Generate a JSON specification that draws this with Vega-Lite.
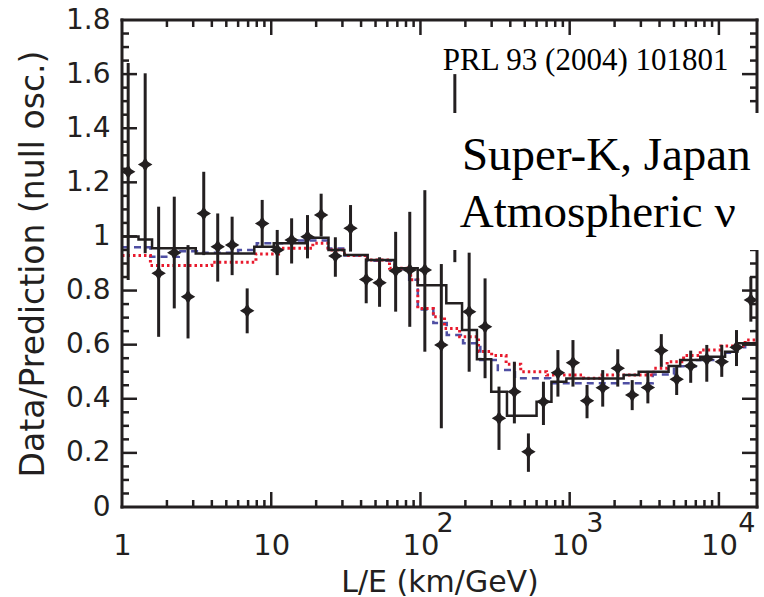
{
  "$schema": "https://vega.github.io/schema/vega-lite/v6.json",
  "width": 635,
  "height": 487,
  "autosize": "none",
  "padding": {"left": 122, "top": 20, "right": 7, "bottom": 90},
  "background": "white",
  "config": {
    "view": {"stroke": null},
    "axis": {"grid": false, "domain": false, "labelFont": "DejaVu Sans", "titleFont": "DejaVu Sans", "titleFontWeight": "normal", "labelColor": "#231f20", "titleColor": "#231f20"}
  },
  "datasets": {
    "pts": [
      {"x": 1.10, "y": 1.239, "lo": 0.839, "hi": 1.641},
      {"x": 1.43, "y": 1.266, "lo": 0.938, "hi": 1.603},
      {"x": 1.76, "y": 0.864, "lo": 0.629, "hi": 1.110},
      {"x": 2.24, "y": 0.940, "lo": 0.734, "hi": 1.147},
      {"x": 2.77, "y": 0.777, "lo": 0.623, "hi": 0.968},
      {"x": 3.53, "y": 1.085, "lo": 0.931, "hi": 1.239},
      {"x": 4.38, "y": 0.962, "lo": 0.833, "hi": 1.085},
      {"x": 5.47, "y": 0.968, "lo": 0.857, "hi": 1.073},
      {"x": 6.9, "y": 0.725, "lo": 0.642, "hi": 0.808},
      {"x": 8.7, "y": 1.048, "lo": 0.962, "hi": 1.135},
      {"x": 10.97, "y": 0.950, "lo": 0.857, "hi": 1.024},
      {"x": 13.7, "y": 0.987, "lo": 0.900, "hi": 1.067},
      {"x": 17.5, "y": 0.999, "lo": 0.919, "hi": 1.079},
      {"x": 21.6, "y": 1.079, "lo": 1.000, "hi": 1.158},
      {"x": 26.9, "y": 0.928, "lo": 0.851, "hi": 0.997},
      {"x": 34, "y": 1.030, "lo": 0.944, "hi": 1.116},
      {"x": 43.3, "y": 0.841, "lo": 0.753, "hi": 0.919},
      {"x": 53.2, "y": 0.829, "lo": 0.740, "hi": 0.923},
      {"x": 68.2, "y": 0.873, "lo": 0.722, "hi": 1.017},
      {"x": 84.8, "y": 0.876, "lo": 0.666, "hi": 1.091},
      {"x": 107, "y": 0.876, "lo": 0.574, "hi": 1.171},
      {"x": 138, "y": 0.599, "lo": 0.291, "hi": 0.898},
      {"x": 170, "y": 1.2, "lo": 0.905, "hi": 1.60},
      {"x": 212, "y": 0.722, "lo": 0.500, "hi": 0.940},
      {"x": 271, "y": 0.666, "lo": 0.476, "hi": 0.845},
      {"x": 336, "y": 0.328, "lo": 0.211, "hi": 0.445},
      {"x": 426, "y": 0.426, "lo": 0.309, "hi": 0.537},
      {"x": 529, "y": 0.204, "lo": 0.130, "hi": 0.272},
      {"x": 667, "y": 0.389, "lo": 0.303, "hi": 0.463},
      {"x": 834, "y": 0.496, "lo": 0.408, "hi": 0.580},
      {"x": 1052, "y": 0.533, "lo": 0.445, "hi": 0.617},
      {"x": 1307, "y": 0.393, "lo": 0.328, "hi": 0.451},
      {"x": 1665, "y": 0.441, "lo": 0.371, "hi": 0.506},
      {"x": 2100, "y": 0.513, "lo": 0.445, "hi": 0.583},
      {"x": 2624, "y": 0.414, "lo": 0.358, "hi": 0.469},
      {"x": 3342, "y": 0.442, "lo": 0.383, "hi": 0.503},
      {"x": 4111, "y": 0.578, "lo": 0.518, "hi": 0.639},
      {"x": 5212, "y": 0.472, "lo": 0.414, "hi": 0.521},
      {"x": 6471, "y": 0.521, "lo": 0.459, "hi": 0.578},
      {"x": 8294, "y": 0.546, "lo": 0.463, "hi": 0.599},
      {"x": 10450, "y": 0.537, "lo": 0.481, "hi": 0.599},
      {"x": 13120, "y": 0.590, "lo": 0.521, "hi": 0.654},
      {"x": 16370, "y": 0.765, "lo": 0.685, "hi": 0.851}
    ],
    "black": [
      {"x": 1, "y": 1.0}, {"x": 1.29, "y": 0.989}, {"x": 1.59, "y": 0.956},
      {"x": 3.12, "y": 0.937}, {"x": 7.7, "y": 0.962}, {"x": 10.4, "y": 0.975},
      {"x": 17, "y": 0.995}, {"x": 24.2, "y": 0.95}, {"x": 30.9, "y": 0.931},
      {"x": 44.3, "y": 0.913}, {"x": 67, "y": 0.882}, {"x": 95.8, "y": 0.82},
      {"x": 149, "y": 0.753}, {"x": 190, "y": 0.654}, {"x": 239, "y": 0.546},
      {"x": 298, "y": 0.426}, {"x": 380, "y": 0.337}, {"x": 600, "y": 0.389},
      {"x": 755, "y": 0.463}, {"x": 950, "y": 0.475}, {"x": 2300, "y": 0.488},
      {"x": 2900, "y": 0.5}, {"x": 4600, "y": 0.521}, {"x": 5500, "y": 0.543},
      {"x": 7500, "y": 0.555}, {"x": 11000, "y": 0.574}, {"x": 13300, "y": 0.605},
      {"x": 18000, "y": 0.605}
    ],
    "blue": [
      {"x": 1, "y": 0.96}, {"x": 1.55, "y": 0.925}, {"x": 2.4, "y": 0.945},
      {"x": 3.3, "y": 0.94}, {"x": 6, "y": 0.95}, {"x": 8, "y": 0.975},
      {"x": 13, "y": 0.985}, {"x": 24, "y": 0.955}, {"x": 31, "y": 0.93},
      {"x": 44, "y": 0.91}, {"x": 67, "y": 0.88}, {"x": 84, "y": 0.84},
      {"x": 96, "y": 0.73}, {"x": 122, "y": 0.68}, {"x": 150, "y": 0.636},
      {"x": 193, "y": 0.605}, {"x": 252, "y": 0.543}, {"x": 330, "y": 0.506},
      {"x": 430, "y": 0.476}, {"x": 740, "y": 0.457}, {"x": 3600, "y": 0.49},
      {"x": 5000, "y": 0.52}, {"x": 7000, "y": 0.543}, {"x": 10500, "y": 0.57},
      {"x": 12800, "y": 0.59}, {"x": 15000, "y": 0.605}, {"x": 18000, "y": 0.605}
    ],
    "red": [
      {"x": 1, "y": 0.93}, {"x": 1.55, "y": 0.893}, {"x": 4, "y": 0.905},
      {"x": 7.9, "y": 0.935}, {"x": 11.2, "y": 0.956}, {"x": 19, "y": 0.975},
      {"x": 24, "y": 0.95}, {"x": 31, "y": 0.93}, {"x": 44, "y": 0.913},
      {"x": 62, "y": 0.882}, {"x": 86, "y": 0.84}, {"x": 96, "y": 0.734},
      {"x": 122, "y": 0.703}, {"x": 145, "y": 0.66}, {"x": 183, "y": 0.629},
      {"x": 245, "y": 0.575}, {"x": 300, "y": 0.56}, {"x": 375, "y": 0.528},
      {"x": 470, "y": 0.5}, {"x": 700, "y": 0.488}, {"x": 1240, "y": 0.476},
      {"x": 1600, "y": 0.488}, {"x": 3660, "y": 0.513}, {"x": 4500, "y": 0.537},
      {"x": 5800, "y": 0.56}, {"x": 7500, "y": 0.58}, {"x": 10300, "y": 0.595},
      {"x": 15000, "y": 0.617}, {"x": 18000, "y": 0.617}
    ],
    "xticks": [
      {"v": 2, "k": "minor"}, {"v": 3, "k": "minor"}, {"v": 4, "k": "minor"}, {"v": 5, "k": "minor"}, {"v": 6, "k": "minor"}, {"v": 7, "k": "minor"}, {"v": 8, "k": "minor"}, {"v": 9, "k": "minor"},
      {"v": 10, "k": "major"},
      {"v": 20, "k": "minor"}, {"v": 30, "k": "minor"}, {"v": 40, "k": "minor"}, {"v": 50, "k": "minor"}, {"v": 60, "k": "minor"}, {"v": 70, "k": "minor"}, {"v": 80, "k": "minor"}, {"v": 90, "k": "minor"},
      {"v": 100, "k": "major"},
      {"v": 200, "k": "minor"}, {"v": 300, "k": "minor"}, {"v": 400, "k": "minor"}, {"v": 500, "k": "minor"}, {"v": 600, "k": "minor"}, {"v": 700, "k": "minor"}, {"v": 800, "k": "minor"}, {"v": 900, "k": "minor"},
      {"v": 1000, "k": "major"},
      {"v": 2000, "k": "minor"}, {"v": 3000, "k": "minor"}, {"v": 4000, "k": "minor"}, {"v": 5000, "k": "minor"}, {"v": 6000, "k": "minor"}, {"v": 7000, "k": "minor"}, {"v": 8000, "k": "minor"}, {"v": 9000, "k": "minor"},
      {"v": 10000, "k": "major"}
    ],
    "yticks": [
      {"v": 0.05, "k": "minor"}, {"v": 0.1, "k": "minor"}, {"v": 0.15, "k": "minor"}, {"v": 0.2, "k": "major"},
      {"v": 0.25, "k": "minor"}, {"v": 0.3, "k": "minor"}, {"v": 0.35, "k": "minor"}, {"v": 0.4, "k": "major"},
      {"v": 0.45, "k": "minor"}, {"v": 0.5, "k": "minor"}, {"v": 0.55, "k": "minor"}, {"v": 0.6, "k": "major"},
      {"v": 0.65, "k": "minor"}, {"v": 0.7, "k": "minor"}, {"v": 0.75, "k": "minor"}, {"v": 0.8, "k": "major"},
      {"v": 0.85, "k": "minor"}, {"v": 0.9, "k": "minor"}, {"v": 0.95, "k": "minor"}, {"v": 1.0, "k": "major"},
      {"v": 1.05, "k": "minor"}, {"v": 1.1, "k": "minor"}, {"v": 1.15, "k": "minor"}, {"v": 1.2, "k": "major"},
      {"v": 1.25, "k": "minor"}, {"v": 1.3, "k": "minor"}, {"v": 1.35, "k": "minor"}, {"v": 1.4, "k": "major"},
      {"v": 1.45, "k": "minor"}, {"v": 1.5, "k": "minor"}, {"v": 1.55, "k": "minor"}, {"v": 1.6, "k": "major"},
      {"v": 1.65, "k": "minor"}, {"v": 1.7, "k": "minor"}, {"v": 1.75, "k": "minor"}
    ],
    "xedges": [{"x": 1}, {"x": 18000}],
    "yedges": [{"y": 0}, {"y": 1.8}],
    "box": [{"x1": 131, "x2": 19000, "y1": 0.95, "y2": 1.456}],
    "big": [
      {"x": 189.6, "y": 1.245, "t": "Super-K, Japan"},
      {"x": 183.7, "y": 1.036, "t": "Atmospheric ν"}
    ],
    "ref": [{"x": 141.3, "y": 1.615, "t": "PRL 93 (2004) 101801"}],
    "exps": [
      {"x": 146, "y": -0.0924, "t": "2"},
      {"x": 1477, "y": -0.0924, "t": "3"},
      {"x": 15400, "y": -0.0924, "t": "4"}
    ]
  },
  "layer": [
    {
      "data": {"name": "blue"},
      "mark": {"type": "line", "interpolate": "step-after", "color": "#4f4fa3", "strokeWidth": 2.5, "strokeDash": [7, 5]},
      "encoding": {
        "x": {"field": "x", "type": "quantitative",
          "scale": {"type": "log", "domain": [1, 18000], "nice": false},
          "axis": {"orient": "bottom", "values": [1, 10, 100, 1000, 10000],
            "labelExpr": "datum.value < 50 ? format(datum.value, 'd') : '10'",
            "ticks": false, "labelFontSize": 29, "labelPadding": 24,
            "labelFlush": false, "labelOverlap": false,
            "title": "L/E (km/GeV)", "titleFontSize": 30, "titlePadding": 7}},
        "y": {"field": "y", "type": "quantitative",
          "scale": {"domain": [0, 1.8], "nice": false, "zero": false},
          "axis": {"orient": "left", "values": [0, 0.2, 0.4, 0.6, 0.8, 1, 1.2, 1.4, 1.6, 1.8],
            "format": ".1~f", "ticks": false, "labelFontSize": 28, "labelPadding": 12,
            "labelOverlap": false, "labelFlush": false,
            "title": "Data/Prediction (null osc.)", "titleFontSize": 33, "titlePadding": 15}}
      }
    },
    {
      "data": {"name": "red"},
      "mark": {"type": "line", "interpolate": "step-after", "color": "#e8192c", "strokeWidth": 3, "strokeDash": [2.5, 3]},
      "encoding": {
        "x": {"field": "x", "type": "quantitative"},
        "y": {"field": "y", "type": "quantitative"}
      }
    },
    {
      "data": {"name": "black"},
      "mark": {"type": "line", "interpolate": "step-after", "color": "#231f20", "strokeWidth": 2.5},
      "encoding": {
        "x": {"field": "x", "type": "quantitative"},
        "y": {"field": "y", "type": "quantitative"}
      }
    },
    {
      "data": {"name": "xedges"},
      "mark": {"type": "rule", "color": "#231f20", "strokeWidth": 3, "strokeCap": "square"},
      "encoding": {"x": {"field": "x", "type": "quantitative"}}
    },
    {
      "data": {"name": "yedges"},
      "mark": {"type": "rule", "color": "#231f20", "strokeWidth": 3, "strokeCap": "square"},
      "encoding": {"y": {"field": "y", "type": "quantitative"}}
    },
    {
      "data": {"name": "xticks"},
      "mark": {"type": "tick", "orient": "vertical", "color": "#231f20", "thickness": 2.5, "opacity": 1, "clip": true},
      "encoding": {
        "x": {"field": "v", "type": "quantitative"},
        "y": {"datum": 0, "type": "quantitative"},
        "size": {"field": "k", "type": "ordinal", "scale": {"domain": ["major", "minor"], "range": [30, 14]}, "legend": null}
      }
    },
    {
      "data": {"name": "xticks"},
      "mark": {"type": "tick", "orient": "vertical", "color": "#231f20", "thickness": 2.5, "opacity": 1, "clip": true},
      "encoding": {
        "x": {"field": "v", "type": "quantitative"},
        "y": {"datum": 1.8, "type": "quantitative"},
        "size": {"field": "k", "type": "ordinal", "scale": {"domain": ["major", "minor"], "range": [30, 14]}, "legend": null}
      }
    },
    {
      "data": {"name": "yticks"},
      "mark": {"type": "tick", "orient": "horizontal", "color": "#231f20", "thickness": 2.5, "opacity": 1, "clip": true},
      "encoding": {
        "y": {"field": "v", "type": "quantitative"},
        "x": {"datum": 1, "type": "quantitative"},
        "size": {"field": "k", "type": "ordinal", "scale": {"domain": ["major", "minor"], "range": [28, 14]}, "legend": null}
      }
    },
    {
      "data": {"name": "yticks"},
      "mark": {"type": "tick", "orient": "horizontal", "color": "#231f20", "thickness": 2.5, "opacity": 1, "clip": true},
      "encoding": {
        "y": {"field": "v", "type": "quantitative"},
        "x": {"datum": 18000, "type": "quantitative"},
        "size": {"field": "k", "type": "ordinal", "scale": {"domain": ["major", "minor"], "range": [28, 14]}, "legend": null}
      }
    },
    {
      "data": {"name": "pts"},
      "mark": {"type": "rule", "color": "#231f20", "strokeWidth": 3},
      "encoding": {
        "x": {"field": "x", "type": "quantitative"},
        "y": {"field": "lo", "type": "quantitative"},
        "y2": {"field": "hi"}
      }
    },
    {
      "data": {"name": "pts"},
      "mark": {"type": "point", "filled": true, "color": "#231f20", "opacity": 1, "size": 210,
        "shape": "M0,-1L0.38,-0.38L1,0L0.38,0.38L0,1L-0.38,0.38L-1,0L-0.38,-0.38Z"},
      "encoding": {
        "x": {"field": "x", "type": "quantitative"},
        "y": {"field": "y", "type": "quantitative"}
      }
    },
    {
      "data": {"name": "box"},
      "mark": {"type": "rect", "color": "white", "opacity": 1},
      "encoding": {
        "x": {"field": "x1", "type": "quantitative"},
        "x2": {"field": "x2"},
        "y": {"field": "y1", "type": "quantitative"},
        "y2": {"field": "y2"}
      }
    },
    {
      "data": {"name": "big"},
      "mark": {"type": "text", "font": "Liberation Serif", "fontSize": 47, "align": "left", "baseline": "alphabetic", "color": "#000000"},
      "encoding": {
        "x": {"field": "x", "type": "quantitative"},
        "y": {"field": "y", "type": "quantitative"},
        "text": {"field": "t"}
      }
    },
    {
      "data": {"name": "ref"},
      "mark": {"type": "text", "font": "Liberation Serif", "fontSize": 31, "align": "left", "baseline": "alphabetic", "color": "#000000"},
      "encoding": {
        "x": {"field": "x", "type": "quantitative"},
        "y": {"field": "y", "type": "quantitative"},
        "text": {"field": "t"}
      }
    },
    {
      "data": {"name": "exps"},
      "mark": {"type": "text", "font": "DejaVu Sans", "fontSize": 27, "align": "center", "baseline": "alphabetic", "color": "#231f20"},
      "encoding": {
        "x": {"field": "x", "type": "quantitative"},
        "y": {"field": "y", "type": "quantitative"},
        "text": {"field": "t"}
      }
    }
  ]
}
